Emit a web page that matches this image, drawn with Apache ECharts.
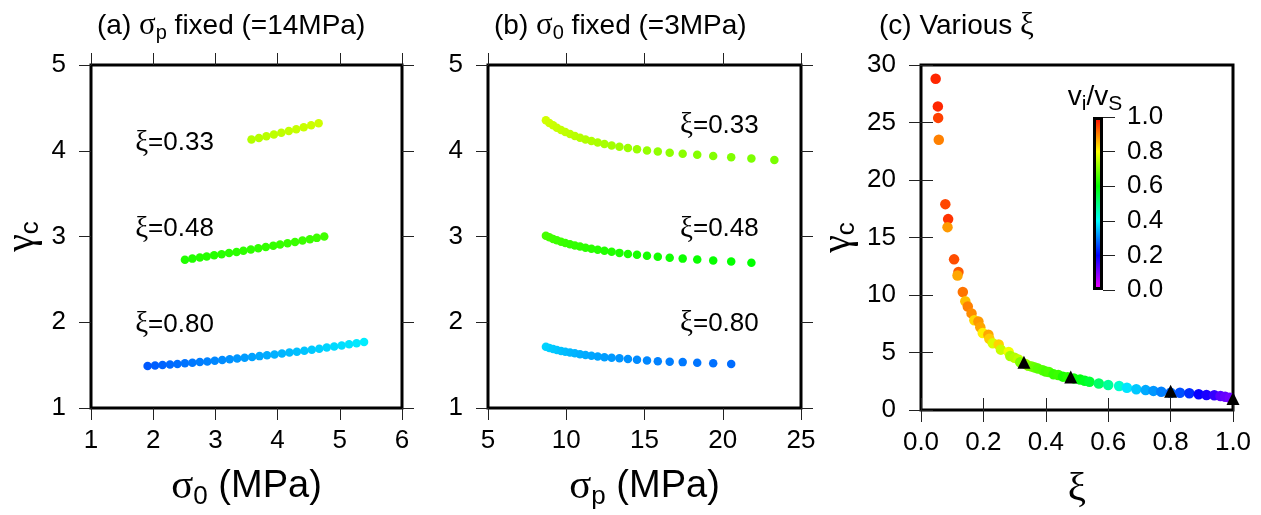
<!DOCTYPE html>
<html>
<head>
<meta charset="utf-8">
<script src="https://cdn.jsdelivr.net/npm/echarts/dist/echarts.min.js"></script>
<style>
  html, body { margin: 0; padding: 0; background: #fff; }
  #chart { width: 1261px; height: 515px; }
</style>
</head>
<body>
<div id="chart"></div>
<script>
// ---- (a) sigma_p fixed at 14 MPa: gamma_c against sigma_0 ----
const sigma0_a33 = [3.58, 3.70, 3.82, 3.94, 4.06, 4.18, 4.30, 4.42, 4.54, 4.66];
const gamma_a33  = [4.130, 4.149, 4.169, 4.189, 4.209, 4.230, 4.252, 4.274, 4.297, 4.320];
const v_a33      = [0.740, 0.743, 0.745, 0.748, 0.750, 0.753, 0.755, 0.757, 0.760, 0.762];

const sigma0_a48 = [2.51, 2.63, 2.75, 2.86, 2.98, 3.10, 3.22, 3.34, 3.45, 3.57, 3.69, 3.81, 3.93, 4.04, 4.16, 4.28, 4.40, 4.52, 4.63, 4.75];
const gamma_a48  = [2.730, 2.742, 2.755, 2.767, 2.780, 2.793, 2.807, 2.820, 2.834, 2.848, 2.862, 2.877, 2.891, 2.906, 2.921, 2.937, 2.952, 2.968, 2.984, 3.000];
const v_a48      = [0.625, 0.626, 0.628, 0.629, 0.630, 0.632, 0.633, 0.634, 0.636, 0.637, 0.638, 0.639, 0.641, 0.642, 0.643, 0.645, 0.646, 0.647, 0.649, 0.650];

const sigma0_a80 = [1.91, 2.03, 2.15, 2.27, 2.39, 2.51, 2.63, 2.75, 2.87, 2.99, 3.11, 3.23, 3.35, 3.47, 3.59, 3.71, 3.83, 3.95, 4.07, 4.19, 4.31, 4.43, 4.55, 4.67, 4.79, 4.91, 5.03, 5.15, 5.27, 5.39];
const gamma_a80  = [1.490, 1.496, 1.502, 1.508, 1.514, 1.521, 1.528, 1.536, 1.543, 1.551, 1.559, 1.568, 1.577, 1.586, 1.595, 1.605, 1.615, 1.625, 1.636, 1.646, 1.657, 1.669, 1.680, 1.692, 1.705, 1.717, 1.730, 1.743, 1.756, 1.770];
const v_a80      = [0.270, 0.274, 0.278, 0.282, 0.286, 0.290, 0.294, 0.298, 0.302, 0.306, 0.310, 0.314, 0.318, 0.322, 0.326, 0.330, 0.334, 0.338, 0.342, 0.346, 0.350, 0.354, 0.358, 0.362, 0.366, 0.370, 0.374, 0.378, 0.382, 0.386];

// ---- (b) sigma_0 fixed at 3 MPa: gamma_c against sigma_p ----
const sigmaP_b  = [8.70, 8.92, 9.16, 9.40, 9.67, 9.94, 10.24, 10.55, 10.88, 11.23, 11.61, 12.01, 12.44, 12.90, 13.40, 13.94, 14.52, 15.16, 15.85, 16.61, 17.44, 18.37, 19.39, 20.54, 21.83, 23.30];
const gamma_b33 = [4.355, 4.325, 4.296, 4.268, 4.242, 4.218, 4.195, 4.173, 4.152, 4.132, 4.113, 4.095, 4.078, 4.062, 4.047, 4.032, 4.018, 4.004, 3.991, 3.978, 3.965, 3.952, 3.938, 3.924, 3.909, 3.891];
const v_b33     = [0.765, 0.762, 0.759, 0.756, 0.754, 0.751, 0.748, 0.745, 0.742, 0.739, 0.737, 0.734, 0.731, 0.728, 0.725, 0.722, 0.720, 0.717, 0.714, 0.711, 0.708, 0.705, 0.703, 0.700, 0.697, 0.694];
const gamma_b48 = [3.009, 2.990, 2.972, 2.955, 2.939, 2.924, 2.910, 2.896, 2.883, 2.870, 2.857, 2.845, 2.833, 2.821, 2.809, 2.797, 2.786, 2.775, 2.764, 2.753, 2.742, 2.731, 2.720, 2.708, 2.694];
const v_b48     = [0.655, 0.653, 0.650, 0.648, 0.646, 0.644, 0.641, 0.639, 0.637, 0.634, 0.632, 0.630, 0.627, 0.625, 0.623, 0.621, 0.618, 0.616, 0.614, 0.611, 0.609, 0.607, 0.605, 0.602, 0.600];
const gamma_b80 = [1.715, 1.700, 1.688, 1.676, 1.665, 1.656, 1.647, 1.638, 1.628, 1.619, 1.610, 1.600, 1.593, 1.587, 1.580, 1.571, 1.562, 1.554, 1.546, 1.540, 1.535, 1.527, 1.521, 1.514];
const v_b80     = [0.365, 0.362, 0.358, 0.355, 0.351, 0.348, 0.344, 0.341, 0.337, 0.334, 0.330, 0.327, 0.323, 0.320, 0.316, 0.313, 0.309, 0.306, 0.302, 0.299, 0.295, 0.292, 0.288, 0.285];

// ---- (c) various xi ----
const xi_c = [0.047, 0.054, 0.055, 0.057, 0.078, 0.087, 0.085, 0.106, 0.120, 0.117,
              0.134, 0.142, 0.150, 0.162, 0.171, 0.184, 0.190, 0.198, 0.216, 0.219,
              0.230, 0.249, 0.256, 0.281, 0.286, 0.300, 0.312, 0.318, 0.335, 0.344,
              0.355, 0.365, 0.375, 0.390, 0.400, 0.410, 0.425, 0.440, 0.455, 0.470,
              0.490, 0.510, 0.525, 0.540, 0.570, 0.600, 0.635, 0.660, 0.690, 0.720,
              0.745, 0.770, 0.800, 0.830, 0.860, 0.890, 0.915, 0.940, 0.960, 0.975, 0.990];
const gamma_c = [28.8, 26.4, 25.4, 23.5, 17.9, 16.6, 15.9, 13.1, 12.0, 11.7,
                 10.26, 9.45, 9.0, 8.4, 7.8, 7.7, 7.2, 6.7, 6.55, 6.2,
                 5.8, 5.7, 5.25, 5.05, 4.7, 4.55, 4.4, 4.15, 4.0, 3.85,
                 3.78, 3.7, 3.6, 3.45, 3.35, 3.3, 3.1, 3.05, 2.9, 2.85,
                 2.75, 2.65, 2.55, 2.45, 2.3, 2.17, 2.08, 1.94, 1.80, 1.73,
                 1.66, 1.59, 1.50, 1.50, 1.45, 1.37, 1.31, 1.28, 1.21, 1.15, 1.07];
const v_c = [0.97, 0.97, 0.95, 0.90, 0.945, 0.96, 0.88, 0.94, 0.93, 0.87,
             0.91, 0.85, 0.90, 0.89, 0.83, 0.88, 0.87, 0.81, 0.87, 0.84,
             0.77, 0.835, 0.757, 0.79, 0.73, 0.74, 0.75, 0.70, 0.72, 0.71,
             0.69, 0.68, 0.67, 0.665, 0.655, 0.66, 0.64, 0.645, 0.62, 0.63,
             0.61, 0.59, 0.575, 0.56, 0.52, 0.48, 0.44, 0.38, 0.357, 0.333,
             0.318, 0.30, 0.28, 0.263, 0.235, 0.195, 0.18, 0.16, 0.13, 0.12, 0.11];
// reference cases shown in (a) and (b)
const xi_tri    = [0.33, 0.48, 0.80, 1.00];
const gamma_tri = [4.15, 2.88, 1.63, 1.00];

// curve labels and colour scale
const xiLabels = ['0.33', '0.48', '0.80'];
const rainbow = ['#ff00ff', '#0000ff', '#00ffff', '#00ff00', '#ffff00', '#ff0000'];
const colorbarTicks = [0, 0.2, 0.4, 0.6, 0.8, 1.0];

const zip3 = (xs, ys, vs) => ys.map((y, i) => [xs[i], y, vs[i]]);

const SANS = "'Liberation Sans', Arial, Helvetica, sans-serif";
const SERIF = "'Liberation Serif', 'Times New Roman', serif";

const tickStyle = { color: '#222', width: 1 };
const labelStyle = { fontFamily: SANS, fontSize: 26, color: '#000' };

const nameRich = {
  g: { fontFamily: SERIF, fontSize: 41, lineHeight: 46, color: '#000', fontWeight: 'normal' },
  t: { fontFamily: SANS, fontSize: 38, lineHeight: 46, color: '#000', fontWeight: 'normal' },
  s: { fontFamily: SANS, fontSize: 26, lineHeight: 22, verticalAlign: 'bottom', color: '#000', fontWeight: 'normal' }
};
const yNameRich = {
  g: { fontFamily: SERIF, fontSize: 40, lineHeight: 44, color: '#000', fontWeight: 'normal' },
  s: { fontFamily: SANS, fontSize: 26, lineHeight: 20, verticalAlign: 'bottom', color: '#000', fontWeight: 'normal' }
};
const titleRich = {
  t: { fontFamily: SANS, fontSize: 28, lineHeight: 34, color: '#000', fontWeight: 'normal' },
  g: { fontFamily: SERIF, fontSize: 31, lineHeight: 34, color: '#000', fontWeight: 'normal' },
  s: { fontFamily: SANS, fontSize: 20, lineHeight: 18, verticalAlign: 'bottom', color: '#000', fontWeight: 'normal' }
};
const curveRich = {
  g: { fontFamily: SERIF, fontSize: 29, color: '#000', fontWeight: 'normal' },
  t: { fontFamily: SANS, fontSize: 26, color: '#000', fontWeight: 'normal' }
};
const barTitleRich = {
  v: { fontFamily: SANS, fontSize: 28, lineHeight: 36, color: '#000', fontWeight: 'normal' },
  s: { fontFamily: SANS, fontSize: 21, lineHeight: 16, verticalAlign: 'bottom', color: '#000', fontWeight: 'normal' }
};

function mainAxis(pos, grid, min, max, interval, extra) {
  return Object.assign({
    type: 'value', gridIndex: grid, position: pos, min, max, interval,
    axisLine: { show: false },
    axisTick: { show: true, inside: false, length: 12, lineStyle: tickStyle },
    splitLine: { show: false },
    axisLabel: Object.assign({ show: true, margin: (pos === 'bottom' ? 20 : 25) }, labelStyle)
  }, extra || {});
}
function mirrorAxis(pos, grid, min, max, interval) {
  return {
    type: 'value', gridIndex: grid, position: pos, min, max, interval,
    axisLine: { show: false },
    axisTick: { show: true, inside: false, length: 12, lineStyle: tickStyle },
    splitLine: { show: false },
    axisLabel: { show: false }
  };
}
const fmt1 = v => v.toFixed(1);

const gridBox = { show: true, borderColor: '#000', borderWidth: 3, backgroundColor: 'transparent' };
const dot = { opacity: 1 };

const option = {
  animation: false,
  backgroundColor: '#fff',
  title: [
    { text: '{t|(a) }{g|σ}{s|p}{t| fixed (=14MPa)}', left: 92, top: 4, textStyle: { fontWeight: 'normal', rich: titleRich } },
    { text: '{t|(b) }{g|σ}{s|0}{t| fixed (=3MPa)}', left: 489, top: 4, textStyle: { fontWeight: 'normal', rich: titleRich } },
    { text: '{t|(c) Various }{g|ξ}', left: 874, top: 4, textStyle: { fontWeight: 'normal', rich: titleRich } }
  ],
  grid: [
    Object.assign({ left: 91, top: 65, width: 311, height: 345 }, gridBox),
    Object.assign({ left: 488, top: 65, width: 313, height: 345 }, gridBox),
    Object.assign({ left: 921, top: 65, width: 312, height: 345 }, gridBox),
    { left: 1093, top: 117, width: 10, height: 173, show: false }
  ],
  xAxis: [
    mainAxis('bottom', 0, 1, 6, 1, {
      name: '{g|σ}{s|0}{t| (MPa)}', nameLocation: 'middle', nameGap: 56,
      nameTextStyle: { rich: nameRich }
    }),
    mirrorAxis('top', 0, 1, 6, 1),
    mainAxis('bottom', 1, 5, 25, 5, {
      name: '{g|σ}{s|p}{t| (MPa)}', nameLocation: 'middle', nameGap: 56,
      nameTextStyle: { rich: nameRich }
    }),
    mirrorAxis('top', 1, 5, 25, 5),
    mainAxis('bottom', 2, 0, 1, 0.2, {
      axisLabel: Object.assign({ show: true, margin: 20, formatter: fmt1 }, labelStyle),
      name: '{g|ξ}', nameLocation: 'middle', nameGap: 56,
      nameTextStyle: { rich: nameRich }
    }),
    mirrorAxis('top', 2, 0, 1, 0.2),
    { type: 'category', gridIndex: 3, data: ['v'], show: false, boundaryGap: true }
  ],
  yAxis: [
    mainAxis('left', 0, 1, 5, 1, {
      name: '{g|γ}{s|c}', nameLocation: 'middle', nameGap: 47,
      nameTextStyle: { rich: yNameRich }
    }),
    mirrorAxis('right', 0, 1, 5, 1),
    mainAxis('left', 1, 1, 5, 1),
    mirrorAxis('right', 1, 1, 5, 1),
    mainAxis('left', 2, 0, 30, 5, {
      name: '{g|γ}{s|c}', nameLocation: 'middle', nameGap: 61,
      nameTextStyle: { rich: yNameRich }
    }),
    mirrorAxis('right', 2, 0, 30, 5),
    {
      type: 'value', gridIndex: 3, position: 'right', min: 0, max: 1, interval: 0.2,
      axisLine: { show: false },
      axisTick: { show: true, length: 12, lineStyle: tickStyle },
      splitLine: { show: false },
      axisLabel: Object.assign({ margin: 24, formatter: fmt1 }, labelStyle)
    }
  ],
  visualMap: {
    show: false, type: 'continuous', min: 0, max: 1, dimension: 2,
    seriesIndex: [0, 1, 2, 3, 4, 5, 6],
    inRange: { color: rainbow }
  },
  series: [
    { type: 'scatter', xAxisIndex: 0, yAxisIndex: 0, symbolSize: 8.5, itemStyle: dot, data: zip3(sigma0_a33, gamma_a33, v_a33) },
    { type: 'scatter', xAxisIndex: 0, yAxisIndex: 0, symbolSize: 8.5, itemStyle: dot, data: zip3(sigma0_a48, gamma_a48, v_a48) },
    { type: 'scatter', xAxisIndex: 0, yAxisIndex: 0, symbolSize: 8.5, itemStyle: dot, data: zip3(sigma0_a80, gamma_a80, v_a80) },
    { type: 'scatter', xAxisIndex: 2, yAxisIndex: 2, symbolSize: 8.5, itemStyle: dot, data: zip3(sigmaP_b, gamma_b33, v_b33) },
    { type: 'scatter', xAxisIndex: 2, yAxisIndex: 2, symbolSize: 8.5, itemStyle: dot, data: zip3(sigmaP_b, gamma_b48, v_b48) },
    { type: 'scatter', xAxisIndex: 2, yAxisIndex: 2, symbolSize: 8.5, itemStyle: dot, data: zip3(sigmaP_b, gamma_b80, v_b80) },
    { type: 'scatter', xAxisIndex: 4, yAxisIndex: 4, symbolSize: 10.5, itemStyle: dot, data: zip3(xi_c, gamma_c, v_c) },
    {
      type: 'scatter', xAxisIndex: 4, yAxisIndex: 4, symbol: 'triangle', symbolSize: 13,
      itemStyle: { color: '#000', opacity: 1 },
      data: gamma_tri.map((g, i) => [xi_tri[i], g])
    },
    {
      type: 'scatter', xAxisIndex: 0, yAxisIndex: 0, symbolSize: 0, silent: true,
      data: [
        { name: xiLabels[0], value: [1.71, 4.09] },
        { name: xiLabels[1], value: [1.71, 3.085] },
        { name: xiLabels[2], value: [1.71, 1.975] }
      ],
      label: { show: true, position: 'right', distance: 0, color: '#000', opacity: 1,
               formatter: p => '{g|ξ}{t|=' + p.name + '}', rich: curveRich }
    },
    {
      type: 'scatter', xAxisIndex: 2, yAxisIndex: 2, symbolSize: 0, silent: true,
      data: [
        { name: xiLabels[0], value: [17.27, 4.29] },
        { name: xiLabels[1], value: [17.27, 3.087] },
        { name: xiLabels[2], value: [17.27, 1.986] }
      ],
      label: { show: true, position: 'right', distance: 0, color: '#000', opacity: 1,
               formatter: p => '{g|ξ}{t|=' + p.name + '}', rich: curveRich }
    },
    {
      // colour scale bar with its title on top
      type: 'bar', xAxisIndex: 6, yAxisIndex: 6, barWidth: '100%', silent: true,
      data: [colorbarTicks[colorbarTicks.length - 1]],
      label: {
        show: true, position: 'top', distance: 2, offset: [-3, 0],
        formatter: '{v|v}{s|i}{v|/v}{s|S}', rich: barTitleRich
      },
      itemStyle: {
        borderColor: '#000', borderWidth: 3, opacity: 1,
        color: {
          type: 'linear', x: 0, y: 1, x2: 0, y2: 0,
          colorStops: rainbow.map((c, i) => ({ offset: i / (rainbow.length - 1), color: c }))
        }
      }
    }
  ]
};

const chart = echarts.init(document.getElementById('chart'), null, { renderer: 'canvas' });
chart.setOption(option);
</script>
</body>
</html>
